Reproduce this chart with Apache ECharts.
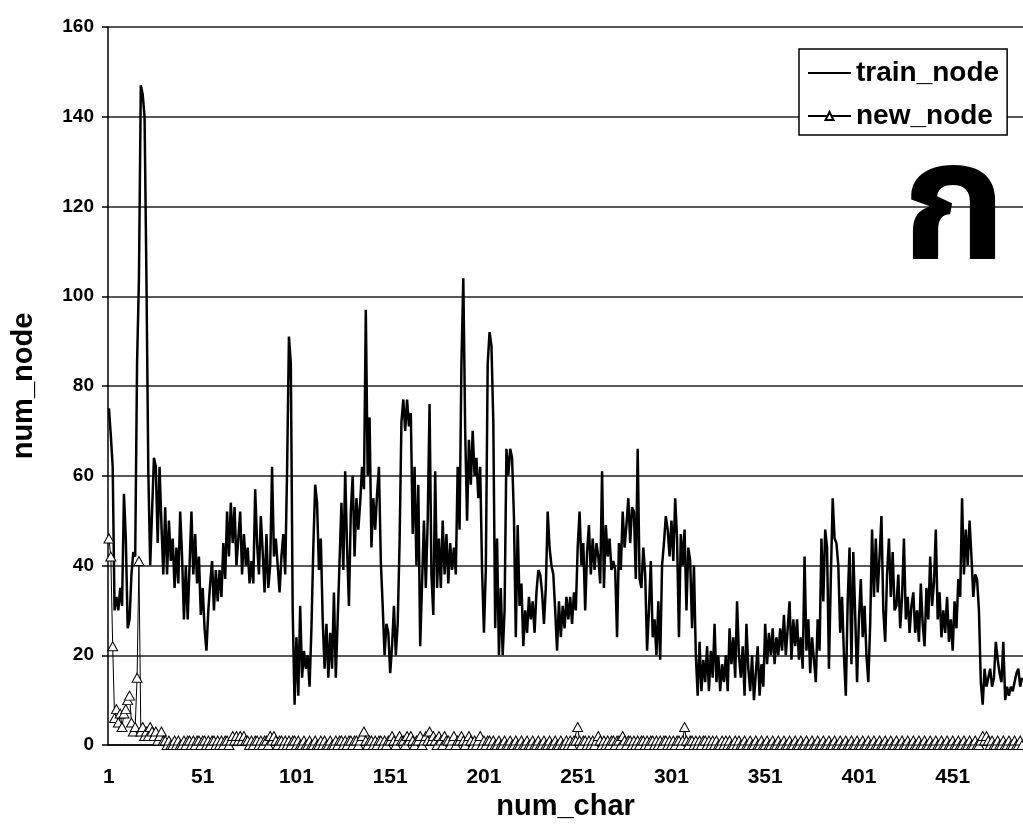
<!DOCTYPE html>
<html>
<head>
<meta charset="utf-8">
<script src="https://cdn.jsdelivr.net/npm/echarts@6/dist/echarts.min.js"></script>
<style>
  html, body { margin: 0; padding: 0; background: #fff; }
  #chart { width: 1023px; height: 840px; }
</style>
</head>
<body>
<div id="chart"></div>
<script>
// num_node per character
const trainNode = [
  75, 69, 62, 30, 33, 30, 35, 31, 56, 46,
  26, 28, 38, 43, 42, 85, 104, 147, 145, 140,
  104, 61, 40, 52, 64, 62, 45, 62, 49, 38,
  53, 38, 50, 41, 46, 35, 44, 36, 52, 42,
  28, 40, 28, 40, 52, 38, 47, 36, 42, 29,
  35, 26, 21, 30, 36, 41, 30, 39, 32, 39,
  33, 45, 37, 52, 42, 54, 45, 53, 40, 46,
  52, 38, 47, 40, 44, 36, 41, 36, 57, 45,
  38, 51, 43, 34, 47, 35, 40, 62, 42, 46,
  40, 34, 42, 47, 38, 61, 91, 85, 30, 9,
  24, 11, 31, 15, 21, 17, 20, 13, 26, 44,
  58, 54, 39, 46, 28, 17, 27, 15, 25, 17,
  34, 15, 28, 41, 54, 39, 61, 44, 31, 52,
  60, 42, 55, 48, 54, 62, 57, 97, 60, 73,
  44, 55, 48, 56, 62, 41, 31, 20, 27, 25,
  16, 22, 31, 20, 27, 45, 72, 77, 70, 77,
  71, 74, 47, 62, 40, 58, 22, 36, 50, 35,
  50, 76, 38, 29, 61, 35, 46, 35, 50, 38,
  47, 36, 45, 39, 44, 38, 62, 48, 85, 104,
  70, 50, 68, 58, 70, 60, 64, 55, 62, 39,
  25, 39, 85, 92, 89, 72, 26, 46, 20, 35,
  20, 30, 66, 60, 66, 64, 51, 24, 49, 31,
  36, 22, 30, 25, 33, 28, 32, 25, 34, 39,
  38, 34, 27, 35, 52, 44, 40, 38, 30, 21,
  32, 24, 31, 26, 33, 28, 33, 27, 34, 30,
  44, 52, 40, 45, 30, 43, 49, 38, 46, 39,
  45, 42, 36, 61, 35, 49, 42, 46, 39, 41,
  39, 24, 45, 39, 52, 44, 49, 55, 45, 53,
  52, 37, 66, 37, 35, 44, 38, 21, 30, 41,
  24, 28, 20, 32, 19, 40, 45, 51, 48, 42,
  50, 41, 55, 46, 24, 47, 40, 48, 30, 44,
  41, 26, 40, 20, 11, 23, 12, 19, 14, 22,
  12, 21, 15, 27, 14, 20, 12, 18, 14, 20,
  12, 26, 18, 24, 15, 32, 20, 15, 22, 11,
  27, 17, 12, 20, 10, 16, 22, 11, 18, 13,
  27, 18, 25, 20, 26, 18, 24, 20, 26, 21,
  29, 20, 26, 32, 19, 28, 22, 28, 19, 24,
  17, 42, 21, 28, 16, 24, 19, 14, 28, 21,
  46, 32, 48, 44, 17, 37, 55, 46, 45, 40,
  25, 33, 20, 11, 32, 44, 18, 43, 29, 14,
  28, 37, 24, 31, 20, 14, 27, 48, 33, 46,
  34, 42, 51, 30, 23, 38, 46, 33, 43, 30,
  31, 38, 26, 33, 46, 28, 33, 25, 31, 34,
  25, 30, 23, 36, 27, 22, 35, 28, 42, 31,
  36, 48, 28, 34, 24, 30, 25, 33, 23, 28,
  21, 32, 26, 37, 33, 55, 38, 48, 40, 50,
  42, 33, 38, 37, 30, 14, 9, 17, 13, 15,
  17, 13, 15, 23, 19, 16, 14, 23, 10, 13,
  11, 13, 12, 14, 16, 17, 13, 15
];

const newNode = [
  46, 42, 22, 6, 8, 5, 7, 4, 7, 8,
  10, 11, 5, 3, 4, 15, 41, 3, 4, 2,
  3, 2, 4, 3, 2, 3, 1, 2, 3, 1,
  1, 0, 1, 0, 0, 1, 0, 1, 0, 0,
  1, 0, 1, 1, 0, 1, 0, 1, 1, 0,
  1, 1, 0, 1, 0, 1, 1, 0, 1, 0,
  1, 0, 1, 1, 0, 1, 2, 1, 2, 1,
  2, 1, 2, 1, 1, 0, 1, 0, 1, 1,
  0, 1, 0, 1, 1, 0, 2, 1, 2, 1,
  0, 1, 1, 0, 1, 0, 1, 0, 1, 1,
  0, 1, 0, 0, 1, 0, 0, 1, 0, 0,
  1, 0, 0, 1, 0, 1, 0, 0, 1, 0,
  0, 1, 0, 1, 1, 0, 1, 0, 1, 1,
  0, 1, 1, 0, 1, 2, 3, 1, 0, 1,
  1, 0, 1, 0, 1, 1, 0, 1, 0, 1,
  1, 2, 1, 0, 1, 2, 1, 1, 0, 2,
  1, 2, 1, 0, 1, 1, 2, 0, 1, 2,
  1, 3, 1, 2, 1, 0, 2, 1, 0, 2,
  1, 1, 0, 1, 2, 0, 1, 1, 2, 1,
  0, 1, 2, 1, 0, 1, 0, 1, 2, 0,
  1, 0, 1, 1, 0, 1, 0, 0, 1, 0,
  0, 1, 0, 0, 1, 0, 0, 1, 0, 0,
  1, 0, 0, 1, 0, 0, 1, 0, 0, 1,
  0, 0, 1, 0, 0, 1, 0, 0, 1, 0,
  0, 1, 0, 0, 1, 0, 1, 0, 1, 1,
  4, 1, 0, 1, 1, 0, 1, 0, 1, 0,
  1, 2, 1, 0, 1, 0, 1, 0, 1, 1,
  0, 1, 1, 0, 2, 1, 0, 1, 1, 0,
  1, 0, 1, 0, 1, 1, 0, 1, 0, 1,
  1, 0, 1, 0, 1, 0, 1, 1, 0, 1,
  0, 1, 0, 1, 1, 0, 1, 4, 1, 0,
  1, 1, 0, 1, 0, 1, 0, 1, 1, 0,
  1, 0, 1, 0, 1, 0, 0, 1, 0, 1,
  0, 1, 0, 0, 1, 0, 1, 0, 0, 1,
  0, 0, 1, 0, 0, 1, 0, 0, 1, 0,
  0, 1, 0, 0, 1, 0, 0, 1, 0, 0,
  1, 0, 0, 1, 0, 0, 1, 0, 0, 1,
  0, 0, 1, 0, 0, 1, 0, 0, 1, 0,
  0, 1, 0, 0, 1, 0, 0, 1, 0, 0,
  1, 0, 0, 1, 0, 0, 1, 0, 0, 1,
  0, 0, 1, 0, 0, 1, 0, 0, 1, 0,
  0, 1, 0, 0, 1, 0, 0, 1, 0, 0,
  1, 0, 0, 1, 0, 0, 1, 0, 0, 1,
  0, 0, 1, 0, 0, 1, 0, 0, 1, 0,
  0, 1, 0, 0, 1, 0, 0, 1, 0, 0,
  1, 0, 0, 1, 0, 0, 1, 0, 0, 1,
  0, 0, 1, 0, 0, 1, 2, 1, 2, 1,
  0, 1, 0, 0, 1, 0, 0, 1, 0, 0,
  1, 0, 0, 1, 0, 0, 1, 0
];

const yTicks = { min: 0, max: 160, interval: 20 };
const thaiLetter = 'ก';

// category labels 1..N
const numChar = trainNode.map((_, i) => String(i + 1));

const font = '"Liberation Sans", Arial, sans-serif';

const chart = echarts.init(document.getElementById('chart'), null, { renderer: 'canvas' });

const option = {
  backgroundColor: '#fff',
  animation: false,
  grid: { left: 108, right: 0, top: 27, bottom: 95, containLabel: false },
  legend: {
    orient: 'vertical',
    left: 799,
    top: 49,
    padding: [10, 8, 5, 8],
    itemGap: 15,
    itemWidth: 43,
    itemHeight: 10,
    backgroundColor: '#fff',
    borderColor: '#000',
    borderWidth: 1.5,
    textStyle: { fontFamily: font, fontWeight: 'bold', fontSize: 28, color: '#000' },
    data: [
      // plain line sample, no marker
      { name: 'train_node', itemStyle: { opacity: 0 } },
      { name: 'new_node' }
    ]
  },
  xAxis: {
    type: 'category',
    data: numChar,
    boundaryGap: true,
    name: 'num_char',
    nameLocation: 'middle',
    nameGap: 36,
    nameTextStyle: { fontFamily: font, fontWeight: 'bold', fontSize: 29, color: '#000' },
    axisLine: { lineStyle: { color: '#000', width: 1.5 } },
    axisTick: { show: false },
    axisLabel: {
      interval: 49,
      margin: 22,
      fontFamily: font,
      fontWeight: 'bold',
      fontSize: 21,
      color: '#000'
    },
    splitLine: { show: false }
  },
  yAxis: {
    type: 'value',
    min: yTicks.min,
    max: yTicks.max,
    interval: yTicks.interval,
    name: 'num_node',
    nameLocation: 'middle',
    nameRotate: 90,
    nameGap: 70,
    nameTextStyle: { fontFamily: font, fontWeight: 'bold', fontSize: 29, color: '#000' },
    axisLine: { show: true, lineStyle: { color: '#000', width: 1.5 } },
    axisTick: { show: true, length: 6, lineStyle: { color: '#000', width: 1.5 } },
    axisLabel: { margin: 14, fontFamily: font, fontWeight: 'bold', fontSize: 19, color: '#000' },
    splitLine: { show: true, lineStyle: { color: '#222', width: 1.5 } }
  },
  graphic: [
    {
      type: 'text',
      left: 902,
      top: 141,
      z: 10,
      style: {
        text: thaiLetter,
        fontFamily: '"Noto Sans Thai", Loma, Garuda, "Tlwg Typo", "DejaVu Sans", sans-serif',
        fontWeight: 'bold',
        fontSize: 168,
        fill: '#000'
      }
    }
  ],
  series: [
    {
      name: 'train_node',
      type: 'line',
      data: trainNode,
      symbol: 'none',
      lineStyle: { color: '#000', width: 2.5 },
      itemStyle: { color: '#000' },
      z: 2
    },
    {
      name: 'new_node',
      type: 'line',
      data: newNode,
      symbol: 'triangle',
      symbolSize: [10, 9],
      showAllSymbol: true,
      lineStyle: { color: '#000', width: 1 },
      itemStyle: { color: '#fff', borderColor: '#000', borderWidth: 1 },
      z: 3
    }
  ]
};

chart.setOption(option);
</script>
</body>
</html>
